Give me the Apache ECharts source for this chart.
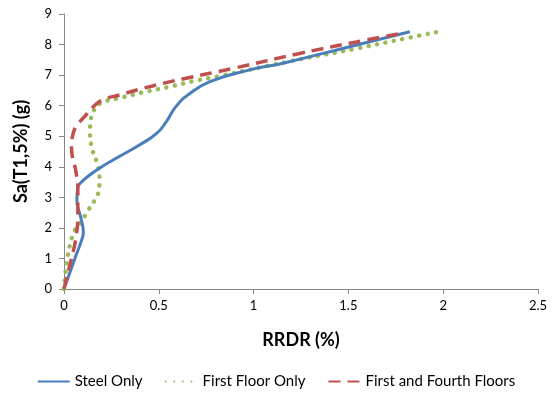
<!DOCTYPE html>
<html>
<head>
<meta charset="utf-8">
<script src="https://cdn.jsdelivr.net/npm/echarts@6/dist/echarts.min.js"></script>
<style>html,body{margin:0;padding:0;background:#fff}#c{width:552px;height:396px}</style>
</head>
<body>
<div id="c"></div>
<script>
var seriesNames = ["Steel Only", "First Floor Only", "First and Fourth Floors"];
var xTicks = [0, 0.5, 1, 1.5, 2, 2.5];
var yTicks = [0, 1, 2, 3, 4, 5, 6, 7, 8, 9];

// [RRDR (%), Sa (g)]
var steelOnly = [
  [0,0],[0.055,0.96],[0.09,1.55],[0.102,1.85],[0.09,2.3],[0.068,2.9],[0.072,3.3],[0.1,3.55],
  [0.187,3.95],[0.275,4.28],[0.4,4.72],[0.49,5.1],[0.54,5.48],[0.59,5.97],[0.66,6.38],
  [0.77,6.79],[0.98,7.17],[1.155,7.39],[1.507,7.93],[1.824,8.42]
];
var firstFloorOnly = [
  [0,0],[0.008,0.54],[0.02,1.09],[0.03,1.4],[0.055,1.9],[0.085,2.15],[0.13,2.6],[0.165,2.95],
  [0.187,3.35],[0.187,3.6],[0.175,4.1],[0.148,4.6],[0.137,5.1],[0.142,5.55],[0.158,5.85],
  [0.2,6.1],[0.3,6.26],[0.434,6.46],[0.557,6.62],[0.689,6.81],[0.821,6.97],[1.173,7.43],
  [1.525,7.85],[1.824,8.23],[1.975,8.42]
];
var firstAndFourth = [
  [0,0],[0.011,0.3],[0.038,0.96],[0.064,1.72],[0.073,2.48],[0.073,3.25],[0.061,3.9],[0.045,4.3],
  [0.039,4.7],[0.045,5.0],[0.064,5.32],[0.108,5.64],[0.152,5.95],[0.205,6.19],[0.293,6.35],
  [0.4,6.54],[0.522,6.73],[0.645,6.9],[0.891,7.22],[1.243,7.71],[1.596,8.15],[1.78,8.37]
];

var chart = echarts.init(document.getElementById('c'));
var axisCol = '#868686';
var font = 'Lato, "Open Sans", sans-serif';
chart.setOption({
  animation: false,
  backgroundColor: '#fff',
  grid: {left: 64, right: 14, top: 14, bottom: 107},
  legend: {
    bottom: 2, left: 'center',
    itemWidth: 32, itemHeight: 10, itemGap: 22,
    itemStyle: {opacity: 0},
    textStyle: {fontFamily: font, fontSize: 15, color: '#000'},
    data: seriesNames
  },
  xAxis: {
    type: 'value', min: xTicks[0], max: xTicks[xTicks.length-1], interval: 0.5,
    name: 'RRDR (%)', nameLocation: 'middle', nameGap: 42,
    nameTextStyle: {fontFamily: font, fontSize: 18, fontWeight: 'bold', color: '#000'},
    axisLine: {lineStyle: {color: axisCol}},
    axisTick: {show: true, length: 5, lineStyle: {color: axisCol}},
    axisLabel: {fontFamily: font, fontSize: 13, color: '#000', margin: 10},
    splitLine: {show: false}
  },
  yAxis: {
    type: 'value', min: yTicks[0], max: yTicks[yTicks.length-1], interval: 1,
    name: 'Sa(T1,5%) (g)', nameLocation: 'middle', nameGap: 34,
    nameTextStyle: {fontFamily: font, fontSize: 18, fontWeight: 'bold', color: '#000'},
    axisLine: {show: true, lineStyle: {color: axisCol}},
    axisTick: {show: true, length: 5, lineStyle: {color: axisCol}},
    axisLabel: {fontFamily: font, fontSize: 13, color: '#000', margin: 12},
    splitLine: {show: false}
  },
  series: [
    {name: seriesNames[0], type: 'line', data: steelOnly, smooth: 0.5, symbol: 'none',
     lineStyle: {color: '#4a7ebb', width: 3}, itemStyle: {color: '#4a7ebb'}, z: 3},
    {name: seriesNames[1], type: 'line', data: firstFloorOnly, smooth: 0.5, symbol: 'none',
     lineStyle: {color: '#9bbb59', width: 4.5, type: [0.1, 8.5], cap: 'round'}, itemStyle: {color: '#9bbb59'}, z: 2},
    {name: seriesNames[2], type: 'line', data: firstAndFourth, smooth: 0.5, symbol: 'none',
     lineStyle: {color: '#c0504d', width: 3.5, type: [12, 7]}, itemStyle: {color: '#c0504d'}, z: 4}
  ]
});
</script>
</body>
</html>
